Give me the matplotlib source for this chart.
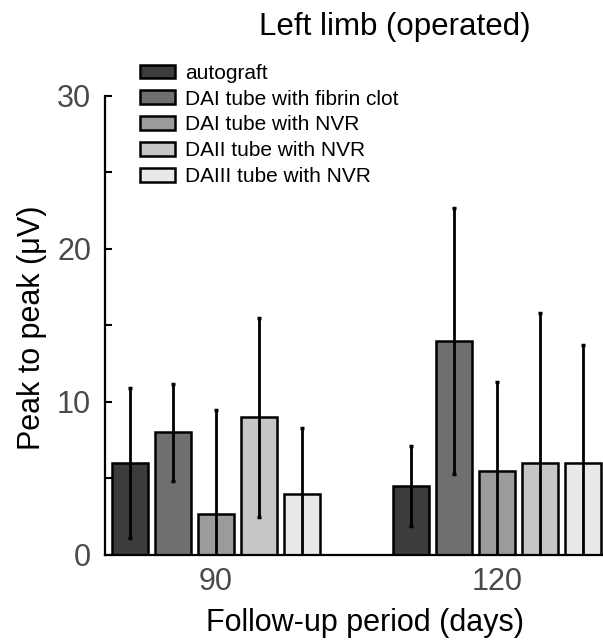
import numpy as np
import matplotlib
matplotlib.use('Agg')
import matplotlib.pyplot as plt
from matplotlib.ticker import MultipleLocator

plt.rcParams['font.family'] = ['Liberation Sans', 'DejaVu Sans']

# data
periods = ['90', '120']
groups = ['autograft', 'DAI tube with fibrin clot', 'DAI tube with NVR',
          'DAII tube with NVR', 'DAIII tube with NVR']
means = {
    'autograft': [6.0, 4.5],
    'DAI tube with fibrin clot': [8.0, 14.0],
    'DAI tube with NVR': [2.7, 5.5],
    'DAII tube with NVR': [9.0, 6.0],
    'DAIII tube with NVR': [4.0, 6.0],
}
errs = {
    'autograft': [4.9, 2.6],
    'DAI tube with fibrin clot': [3.2, 8.7],
    'DAI tube with NVR': [6.8, 5.8],
    'DAII tube with NVR': [6.5, 9.8],
    'DAIII tube with NVR': [4.3, 7.7],
}
colors = ['#3c3c3c', '#6f6f6f', '#9b9b9b', '#c6c6c6', '#e9e9e9']

fig = plt.figure(figsize=(6.03, 6.43), dpi=100)
ax = fig.add_axes([0.174, 0.137, 0.826, 0.714])

xc = np.arange(len(periods))
step = 0.153
width = 0.128
for i, g in enumerate(groups):
    xs = xc + (i - 2) * step
    ax.bar(xs, means[g], width=width, color=colors[i], edgecolor='black',
           linewidth=1.8, label=g, zorder=2)
    ax.errorbar(xs, means[g], yerr=errs[g], fmt='none', ecolor='black',
                elinewidth=2.0, capsize=1.5, capthick=2.5, zorder=3)

ax.set_xlim(-0.395, 1.377)
ax.set_ylim(0, 30)
ax.set_xticks(xc)
ax.set_xticklabels(periods)
ax.yaxis.set_major_locator(MultipleLocator(10))
ax.yaxis.set_minor_locator(MultipleLocator(5))
ax.tick_params(axis='y', which='both', direction='in', length=5, width=1.5,
               labelsize=22, labelcolor='#4a4a4a', pad=10)
ax.tick_params(axis='x', length=0, labelsize=22, labelcolor='#4a4a4a', pad=9)
for s in ['top', 'right']:
    ax.spines[s].set_visible(False)
for s in ['left', 'bottom']:
    ax.spines[s].set_linewidth(1.6)

fig.text(0.655, 0.9456, 'Left limb (operated)', fontsize=22.5, ha='center', va='baseline')
fig.text(0.606, 0.031, 'Follow-up period (days)', fontsize=22, ha='center', va='center')
fig.text(0.053, 0.49, 'Peak to peak (\u03bcV)', fontsize=22, ha='center', va='center',
         rotation=90)

ax.legend(loc='upper left', bbox_to_anchor=(0.232, 0.901), bbox_transform=fig.transFigure,
          frameon=False, fontsize=15, handlelength=1.7, handleheight=0.62,
          handletextpad=0.45, labelspacing=0.33, borderpad=0, borderaxespad=0)

fig.savefig('out.png', dpi=100)
